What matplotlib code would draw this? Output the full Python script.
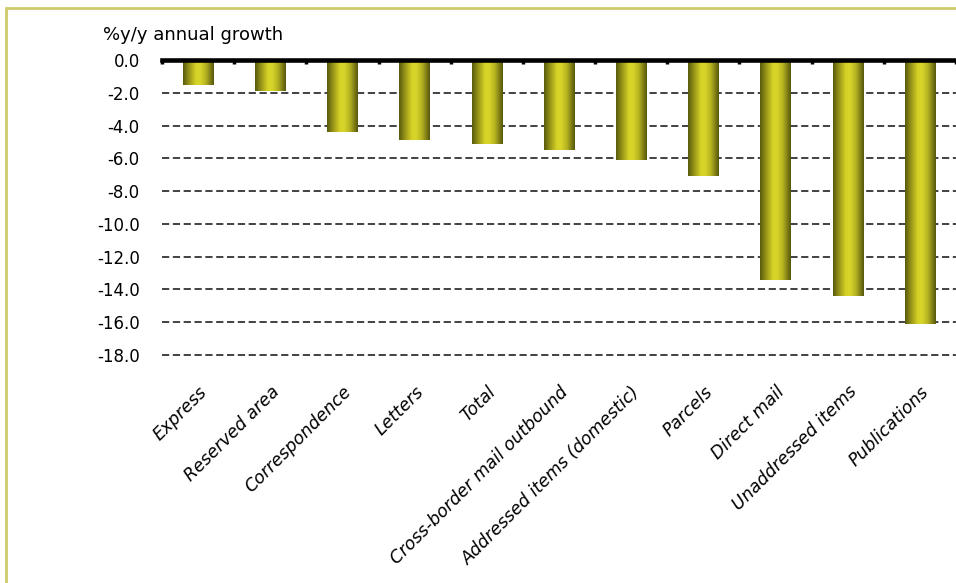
import numpy as np
import matplotlib
matplotlib.use('Agg')
import matplotlib.pyplot as plt
from matplotlib.colors import LinearSegmentedColormap
from matplotlib.patches import Rectangle

categories = ['Express', 'Reserved area', 'Correspondence', 'Letters', 'Total',
              'Cross-border mail outbound', 'Addressed items (domestic)', 'Parcels',
              'Direct mail', 'Unaddressed items', 'Publications']
growth = [-1.5, -1.9, -4.4, -4.9, -5.1, -5.5, -6.1, -7.1, -13.4, -14.4, -16.1]
yticks = np.arange(0, -20, -2)

plt.rcParams['font.family'] = ['DejaVu Sans']

fig = plt.figure(figsize=(9.56, 5.83), dpi=100)
ax = fig.add_axes([162 / 956, 1 - 355 / 583, 1 - 162 / 956, 295 / 583])

# olive-yellow cylinder look, dark at both edges
cmap = LinearSegmentedColormap.from_list('olive', [
    (0.0, '#5a5a0e'), (0.2, '#9a9818'), (0.42, '#d6d328'),
    (0.55, '#d8d52a'), (0.75, '#b4b120'), (1.0, '#58580e')])
grad = np.linspace(0, 1, 64).reshape(1, -1)

x = np.arange(len(categories))
bars = ax.bar(x, growth, width=0.42, color='none', edgecolor='none', zorder=3)
for b in bars:
    x0, y0 = b.get_x(), b.get_y()
    w, h = b.get_width(), b.get_height()
    im = ax.imshow(grad, cmap=cmap, aspect='auto', interpolation='bilinear',
                   extent=[x0, x0 + w, y0 + h, y0], zorder=3)
    im.set_clip_path(b)

ax.set_xlim(-0.5, len(categories) - 0.5)
ax.set_ylim(-18, 0)

for v in yticks[1:]:
    ax.axhline(v, color='#333333', lw=1.3, ls=(0, (4, 2)), zorder=1, clip_on=False)

for side in ['left', 'right', 'bottom']:
    ax.spines[side].set_visible(False)
ax.spines['top'].set_linewidth(3.3)
ax.spines['top'].set_zorder(4)

ax.set_yticks(yticks)
ax.set_yticklabels(['%.1f' % v for v in yticks], fontsize=12)
ax.tick_params(axis='y', length=0, pad=16)

ax.set_xticks(x)
ax.set_xticklabels(categories, rotation=45, ha='right', va='top',
                   rotation_mode='anchor', fontsize=12.5, fontstyle='italic')
ax.tick_params(axis='x', which='major', length=0, pad=20)
ax.set_xticks(np.arange(-0.5, len(categories)), minor=True)
ax.tick_params(axis='x', which='minor', top=True, bottom=False, direction='in',
               length=3, width=2.5)

fig.text(103 / 956, 1 - 35 / 583, '%y/y annual growth', fontsize=13, va='center')

# pale olive frame around the chart
fig.add_artist(Rectangle((6 / 956, -0.1), 1.2, 1.1 - 8 / 583, transform=fig.transFigure,
                         fill=False, edgecolor='#cfcb6a', lw=2, clip_on=False))

fig.savefig('out.png', dpi=100)
